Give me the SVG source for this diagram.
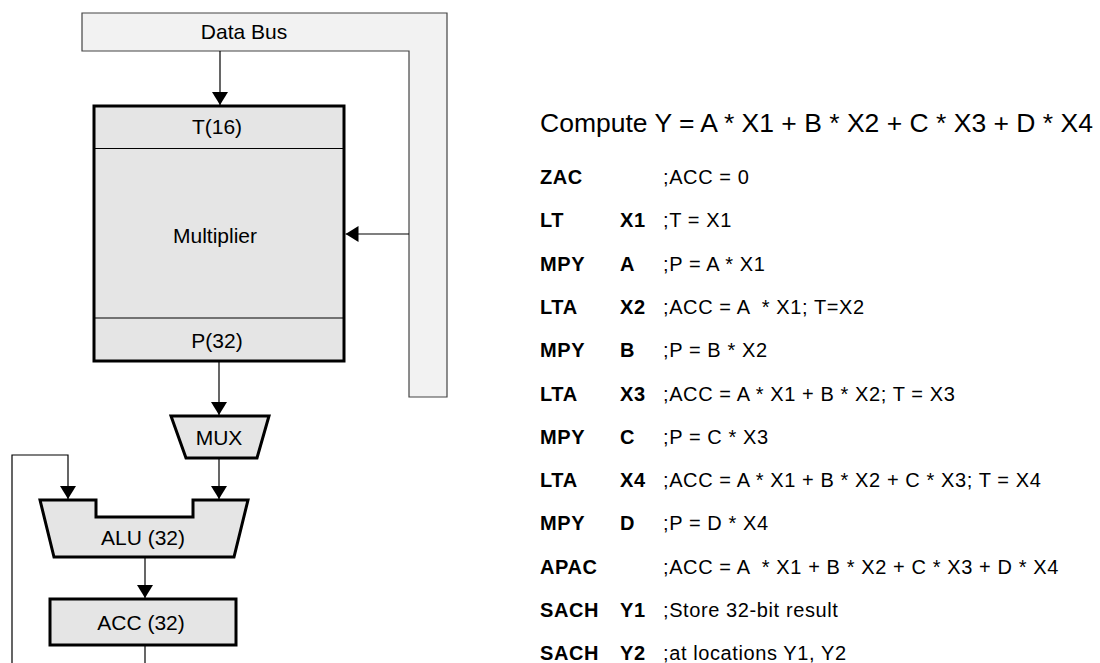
<svg xmlns="http://www.w3.org/2000/svg" width="1100" height="663" viewBox="0 0 1100 663">
<defs>
<style>
.lbl{font-family:"Liberation Sans",Arial,sans-serif;font-size:21px;fill:#000;text-anchor:middle}
.blk{fill:#e5e5e5;stroke:#000;stroke-width:3;stroke-linejoin:miter}
.thin{stroke:#000;stroke-width:1.2;fill:none}
.con{stroke:#000;stroke-width:1.2;fill:none}
.code{font-family:"Liberation Sans",Arial,sans-serif;font-size:20px;fill:#000;letter-spacing:0.6px;white-space:pre}
.b{font-weight:bold}
.title{font-family:"Liberation Sans",Arial,sans-serif;font-size:26.5px;fill:#000}
</style>
<marker id="arr" viewBox="0 0 13 16" refX="13" refY="8" markerWidth="13" markerHeight="16" markerUnits="userSpaceOnUse" orient="auto">
<path d="M0,0 L13,8 L0,16 Z" fill="#000"/>
</marker>
</defs>
<rect width="1100" height="663" fill="#fff"/>

<g id="databus">
<path d="M82,13 H447 V397 H409 V51 H82 Z" fill="#f2f2f2" stroke="#444" stroke-width="1.2"/>
<text class="lbl" x="244" y="39">Data Bus</text>
</g>

<g id="multiplier">
<rect class="blk" x="94" y="106" width="250" height="255"/>
<line class="thin" x1="94" y1="148.5" x2="344" y2="148.5"/>
<line class="thin" x1="94" y1="318" x2="344" y2="318"/>
<text class="lbl" x="217" y="134">T(16)</text>
<text class="lbl" x="215" y="243">Multiplier</text>
<text class="lbl" x="217" y="348">P(32)</text>
</g>

<g id="mux">
<path class="blk" d="M171,416 H269 L257,458 H186 Z"/>
<text class="lbl" x="219" y="445">MUX</text>
</g>

<g id="alu">
<path class="blk" d="M40,500 H96 V517 H193 V500 H248 L234,557 H54 Z"/>
<text class="lbl" x="143" y="545">ALU (32)</text>
</g>

<g id="acc">
<rect class="blk" x="50" y="599" width="186" height="46"/>
<text class="lbl" x="141" y="630">ACC (32)</text>
</g>

<g id="connectors">
<path class="con" d="M220,51 V105" marker-end="url(#arr)"/>
<path class="con" d="M409,234 H345.5" marker-end="url(#arr)"/>
<path class="con" d="M219,362 V415" marker-end="url(#arr)"/>
<path class="con" d="M219,459 V499" marker-end="url(#arr)"/>
<path class="con" d="M12,663 V455 H68 V499" marker-end="url(#arr)"/>
<path class="con" d="M145,558 V598" marker-end="url(#arr)"/>
<path class="con" d="M145,646 V663"/>
</g>

<g id="program">
<text class="title" x="540" y="132">Compute Y = A * X1 + B * X2 + C * X3 + D * X4</text>
<g class="code">
<text class="code b" x="540" y="184">ZAC</text>
<text class="code" x="663" y="184">;ACC = 0</text>
<text class="code b" x="540" y="227.3">LT</text>
<text class="code b" x="620" y="227.3">X1</text>
<text class="code" x="663" y="227.3">;T = X1</text>
<text class="code b" x="540" y="270.6">MPY</text>
<text class="code b" x="620" y="270.6">A</text>
<text class="code" x="663" y="270.6">;P = A * X1</text>
<text class="code b" x="540" y="313.9">LTA</text>
<text class="code b" x="620" y="313.9">X2</text>
<text class="code" x="663" y="313.9">;ACC = A  * X1; T=X2</text>
<text class="code b" x="540" y="357.2">MPY</text>
<text class="code b" x="620" y="357.2">B</text>
<text class="code" x="663" y="357.2">;P = B * X2</text>
<text class="code b" x="540" y="400.5">LTA</text>
<text class="code b" x="620" y="400.5">X3</text>
<text class="code" x="663" y="400.5">;ACC = A * X1 + B * X2; T = X3</text>
<text class="code b" x="540" y="443.8">MPY</text>
<text class="code b" x="620" y="443.8">C</text>
<text class="code" x="663" y="443.8">;P = C * X3</text>
<text class="code b" x="540" y="487.1">LTA</text>
<text class="code b" x="620" y="487.1">X4</text>
<text class="code" x="663" y="487.1">;ACC = A * X1 + B * X2 + C * X3; T = X4</text>
<text class="code b" x="540" y="530.4">MPY</text>
<text class="code b" x="620" y="530.4">D</text>
<text class="code" x="663" y="530.4">;P = D * X4</text>
<text class="code b" x="540" y="573.7">APAC</text>
<text class="code" x="663" y="573.7">;ACC = A  * X1 + B * X2 + C * X3 + D * X4</text>
<text class="code b" x="540" y="617">SACH</text>
<text class="code b" x="620" y="617">Y1</text>
<text class="code" x="663" y="617">;Store 32-bit result</text>
<text class="code b" x="540" y="660.3">SACH</text>
<text class="code b" x="620" y="660.3">Y2</text>
<text class="code" x="663" y="660.3">;at locations Y1, Y2</text>
</g>
</g>
</svg>
